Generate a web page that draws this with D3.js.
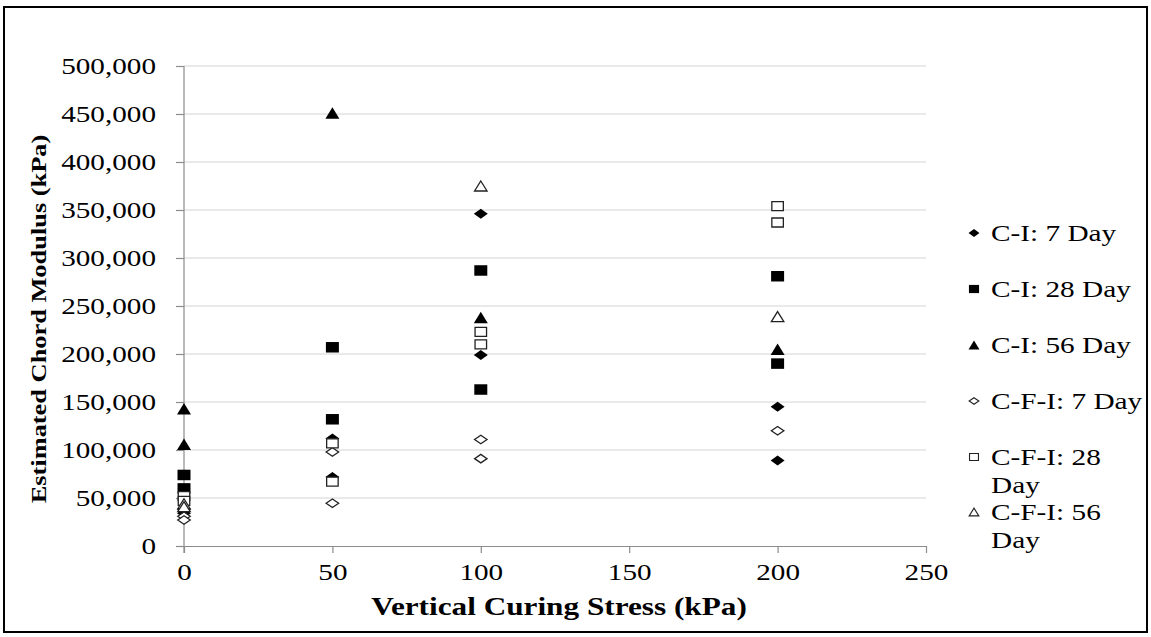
<!DOCTYPE html>
<html>
<head>
<meta charset="utf-8">
<script src="https://cdn.jsdelivr.net/npm/d3@7"></script>
<style>
  body { margin: 0; background: #fff; }
  svg text { font-family: "Liberation Serif", "Times New Roman", serif; fill: #000; }
</style>
</head>
<body>
<svg class="chart" width="1151" height="637"></svg>
<script>
// values: [stress kPa, modulus kPa]
var ci7 = [[0, 38000], [0, 34000], [50, 112000], [50, 72000], [100, 346000], [100, 199000], [200, 145000], [200, 89000]];
var ci28 = [[0, 74000], [0, 60000], [50, 207000], [50, 132000], [100, 287000], [100, 163000], [200, 281000], [200, 190000]];
var ci56 = [[0, 143000], [0, 106000], [50, 451000], [100, 238000], [200, 205000]];
var cfi7 = [[0, 31000], [0, 27000], [50, 98000], [50, 44500], [100, 111000], [100, 91000], [200, 120000]];
var cfi28 = [[0, 52000], [0, 47000], [50, 107000], [50, 67000], [100, 223000], [100, 210000], [200, 354000], [200, 337000]];
var cfi56 = [[0, 44000], [0, 41000], [100, 375000], [200, 239000]];

var seriesNames = ['C-I: 7 Day', 'C-I: 28 Day', 'C-I: 56 Day', 'C-F-I: 7 Day', 'C-F-I: 28 Day', 'C-F-I: 56 Day'];
var xTicks = [0, 50, 100, 150, 200, 250];
var yTicks = [0, 50000, 100000, 150000, 200000, 250000, 300000, 350000, 400000, 450000, 500000];

var series = [
    {name: seriesNames[0], data: ci7, shape: 'diamond', filled: true},
    {name: seriesNames[1], data: ci28, shape: 'square', filled: true},
    {name: seriesNames[2], data: ci56, shape: 'triangle', filled: true},
    {name: seriesNames[3], data: cfi7, shape: 'diamond', filled: false},
    {name: seriesNames[4], data: cfi28, shape: 'square', filled: false},
    {name: seriesNames[5], data: cfi56, shape: 'triangle', filled: false}
];

var svg = d3.select('svg.chart');
var stretch = 1.27; // the text in the picture is wider than the plain font

var x = d3.scaleLinear().domain([0, 250]).range([184, 926]);
var y = d3.scaleLinear().domain([0, 500000]).range([546, 66]);

// outer frame
svg.append('rect')
    .attr('x', 4).attr('y', 7)
    .attr('width', 1143).attr('height', 625)
    .attr('fill', 'none')
    .attr('stroke', '#000')
    .attr('stroke-width', 2);

// gridlines
svg.append('g').selectAll('line')
    .data(yTicks.filter(function (d) { return d > 0; }))
    .enter().append('line')
    .attr('x1', x(0)).attr('x2', x(250))
    .attr('y1', function (d) { return y(d); })
    .attr('y2', function (d) { return y(d); })
    .attr('stroke', '#d4d4d4')
    .attr('stroke-width', 1);

var yAxis = svg.append('g')
    .attr('transform', 'translate(' + x(0) + ',0)')
    .call(d3.axisLeft(y).tickValues(yTicks).tickSize(8).tickSizeOuter(0).tickFormat(d3.format(',')));

var xAxis = svg.append('g')
    .attr('transform', 'translate(0,' + y(0) + ')')
    .call(d3.axisBottom(x).tickValues(xTicks).tickSize(7).tickSizeOuter(0));

[yAxis, xAxis].forEach(function (ax) {
    ax.select('.domain').attr('stroke', '#8c8c8c').attr('stroke-width', 1.2);
    ax.selectAll('.tick line').attr('stroke', '#8c8c8c').attr('stroke-width', 1.2);
    ax.selectAll('text').attr('font-size', 23).attr('font-family', null).attr('fill', '#000');
});
// y axis line runs on down to the 0 tick of the x axis
yAxis.select('.domain').attr('d', 'M0,' + y(500000) + 'V' + (y(0) + 7));

yAxis.selectAll('.tick text')
    .attr('x', null).attr('dy', '0.33em')
    .attr('transform', 'translate(-28,0) scale(' + stretch + ',1)');
xAxis.selectAll('.tick text')
    .attr('y', null).attr('dy', null)
    .attr('transform', 'translate(0,34) scale(' + stretch + ',1)');

// axis titles
svg.append('text')
    .attr('transform', 'translate(559,615) scale(1.25,1)')
    .attr('text-anchor', 'middle')
    .attr('font-size', 25)
    .attr('font-weight', 'bold')
    .text('Vertical Curing Stress (kPa)');

svg.append('text')
    .attr('transform', 'translate(46,319) rotate(-90) scale(1.2,1)')
    .attr('text-anchor', 'middle')
    .attr('font-size', 22)
    .attr('font-weight', 'bold')
    .text('Estimated Chord Modulus (kPa)');

// marker paths, w x h
let markerPath = function (shape, w, h) {
    var a = w / 2, b = h / 2;
    if (shape == 'square') {
        return 'M' + (-a) + ',' + (-b) + 'H' + a + 'V' + b + 'H' + (-a) + 'Z';
    } else if (shape == 'diamond') {
        return 'M0,' + (-b) + 'L' + a + ',0L0,' + b + 'L' + (-a) + ',0Z';
    } else {
        return 'M0,' + (-b) + 'L' + a + ',' + b + 'H' + (-a) + 'Z';
    }
}

let markerSize = function (shape) {
    if (shape == 'square') return [13, 10.5];
    if (shape == 'diamond') return [14, 10];
    return [14, 11.5];
}

series.forEach(function (s) {
    var sz = markerSize(s.shape);
    var w = s.filled ? sz[0] : sz[0] - 1.5;
    var h = s.filled ? sz[1] : sz[1] - 1.5;
    svg.append('g').selectAll('path')
        .data(s.data)
        .enter().append('path')
        .attr('transform', function (d) {
            return 'translate(' + x(d[0]) + ',' + y(d[1]) + ')';
        })
        .attr('d', markerPath(s.shape, w, h))
        .attr('fill', s.filled ? '#000' : '#fff')
        .attr('stroke', s.filled ? 'none' : '#222')
        .attr('stroke-width', 1.3);
});

// legend
var legendRows = [233, 289, 345, 401, 457, 512];
var legend = svg.append('g').selectAll('g')
    .data(series)
    .enter().append('g')
    .attr('transform', function (d, i) { return 'translate(974,' + legendRows[i] + ')'; });

legend.append('path')
    .attr('d', function (d) {
        var sz = markerSize(d.shape);
        return markerPath(d.shape, sz[0] * 0.78 - (d.filled ? 0 : 1.2), sz[1] * 0.78 - (d.filled ? 0 : 1.2));
    })
    .attr('fill', function (d) { return d.filled ? '#000' : '#fff'; })
    .attr('stroke', function (d) { return d.filled ? 'none' : '#222'; })
    .attr('stroke-width', 1.1);

legend.append('text')
    .attr('transform', 'translate(17,0) scale(1.22,1)')
    .attr('font-size', 24)
    .each(function (d) {
        var t = d3.select(this);
        var lines = d.name.length > 12
            ? [d.name.slice(0, d.name.lastIndexOf(' ')), d.name.slice(d.name.lastIndexOf(' ') + 1)]
            : [d.name];
        lines.forEach(function (line, k) {
            t.append('tspan')
                .attr('x', 0)
                .attr('y', k * 28)
                .attr('dy', '0.34em')
                .text(line);
        });
    });
</script>
</body>
</html>
